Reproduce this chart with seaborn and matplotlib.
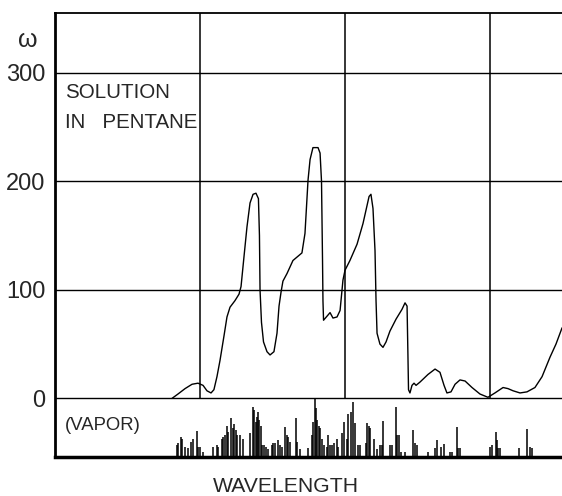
import numpy as np
import pandas as pd
import matplotlib
matplotlib.use("Agg")
import matplotlib.pyplot as plt
from matplotlib import font_manager
import seaborn as sns

# ---- data (wavelength in arbitrary grid units, omega values) ----
sol_wl = [0.807, 0.848, 0.897, 0.945, 0.986, 1.021, 1.048, 1.076, 1.096, 1.117,
          1.138, 1.166, 1.186, 1.207, 1.241, 1.269, 1.283, 1.303, 1.324, 1.345,
          1.366, 1.386, 1.403, 1.410, 1.414, 1.424, 1.438, 1.462, 1.483, 1.510,
          1.531, 1.545, 1.559, 1.572, 1.600, 1.641, 1.703, 1.724, 1.745, 1.759,
          1.779, 1.793, 1.814, 1.828, 1.838, 1.845, 1.848, 1.852, 1.897, 1.917,
          1.945, 1.966, 1.986, 2.000, 2.034, 2.083, 2.124, 2.166, 2.179, 2.193,
          2.207, 2.214, 2.221, 2.241, 2.262, 2.283, 2.310, 2.352, 2.393, 2.414,
          2.428, 2.434, 2.438, 2.448, 2.462, 2.476, 2.490, 2.517, 2.572, 2.621,
          2.655, 2.683, 2.703, 2.731, 2.759, 2.793, 2.828, 2.876, 2.931, 2.986,
          3.034, 3.090, 3.124, 3.159, 3.207, 3.255, 3.310, 3.359, 3.414, 3.455,
          3.497]
sol_omega = [0, 4, 9, 13, 14, 12, 7, 5, 8, 20,
             35, 58, 75, 84, 90, 96, 103, 130, 158, 180,
             188, 189, 184, 150, 100, 70, 52, 43, 40, 43,
             60, 85, 98, 108, 115, 127, 134, 152, 201, 220,
             231, 231, 231, 226, 200, 127, 90, 72, 79, 74,
             75, 81, 109, 118, 127, 142, 161, 186, 188, 175,
             136, 90, 60, 50, 47, 52, 62, 73, 82, 88,
             85, 40, 8, 5, 12, 14, 12, 15, 22, 27,
             24, 12, 5, 6, 13, 17, 16, 10, 4, 1,
             5, 10, 9, 7, 5, 6, 10, 20, 38, 50,
             65]

vapor_wl = [0.841, 0.848, 0.869, 0.876, 0.897, 0.917, 0.938, 0.952, 0.979, 0.986,
            1.000, 1.021, 1.090, 1.117, 1.124, 1.152, 1.159, 1.172, 1.186, 1.193,
            1.214, 1.228, 1.234, 1.248, 1.255, 1.276, 1.297, 1.345, 1.366, 1.372,
            1.386, 1.393, 1.400, 1.407, 1.421, 1.428, 1.441, 1.455, 1.469, 1.497,
            1.503, 1.517, 1.538, 1.552, 1.566, 1.586, 1.600, 1.607, 1.621, 1.662,
            1.669, 1.690, 1.745, 1.772, 1.779, 1.793, 1.800, 1.807, 1.821, 1.828,
            1.841, 1.855, 1.876, 1.883, 1.897, 1.910, 1.924, 1.945, 1.952, 1.979,
            1.993, 2.014, 2.021, 2.041, 2.055, 2.069, 2.090, 2.103, 2.145, 2.152,
            2.166, 2.172, 2.200, 2.221, 2.241, 2.255, 2.262, 2.310, 2.324, 2.352,
            2.359, 2.372, 2.386, 2.414, 2.469, 2.483, 2.497, 2.572, 2.621, 2.634,
            2.662, 2.683, 2.724, 2.738, 2.772, 2.779, 2.793, 3.000, 3.014, 3.041,
            3.048, 3.055, 3.069, 3.200, 3.255, 3.276, 3.290]
vapor_top = [-43, -41, -36, -37, -45, -46, -40, -37, -30, -45,
             -45, -49, -45, -43, -45, -37, -36, -34, -25, -31,
             -18, -27, -24, -29, -34, -34, -37, -32, -8, -11,
             -22, -17, -13, -20, -25, -43, -43, -45, -47, -43,
             -41, -41, -38, -43, -45, -26, -34, -36, -40, -18,
             -40, -47, -46, -34, -22, 0, -9, -20, -25, -27,
             -37, -43, -45, -34, -43, -43, -41, -37, -45, -32,
             -22, -37, -14, -13, -3, -23, -43, -43, -41, -23,
             -25, -27, -37, -47, -43, -43, -21, -43, -43, -8,
             -34, -34, -49, -49, -29, -41, -43, -49, -46, -38,
             -45, -42, -49, -49, -26, -46, -46, -45, -43, -31,
             -38, -46, -46, -46, -28, -45, -46]

y_ticks = [0, 100, 200, 300]
y_tick_labels = ["0", "100", "200", "300"]
x_grid = [1, 2, 3]

# ---- figure ----
sns.set_style("white")
plt.rcParams['font.family'] = ['Liberation Sans', 'DejaVu Sans']

installed = {f.name for f in font_manager.fontManager.ttflist}
if 'Liberation Sans Narrow' in installed:
    label_family = ['Liberation Sans Narrow', 'DejaVu Sans']
    fs_sol, fs_vap, fs_wl = 16, 15, 17
else:
    label_family = ['Liberation Sans', 'DejaVu Sans']
    fs_sol, fs_vap, fs_wl = 14.8, 13.3, 15.2

W, H = 562, 496
fig = plt.figure(figsize=(W / 100, H / 100), dpi=100)
ax = fig.add_axes([55 / W, 1 - 457 / H, 507.5 / W, (457 - 13) / H])

y_bottom, y_top = -54, 355
ax.set_xlim(0, 3.5)
ax.set_ylim(y_bottom, y_top)

# grid
for yv in y_ticks:
    ax.axhline(yv, color="black", lw=1.0, zorder=1)
ax.vlines(x_grid, 0, y_top, color="black", lw=1.1, zorder=1)

# solution curve
df = pd.DataFrame({"wl": sol_wl, "omega": sol_omega})
sns.lineplot(data=df, x="wl", y="omega", sort=False, estimator=None,
             color="black", lw=1.0, ax=ax, zorder=3)

# vapor spectrum lines
ax.vlines(vapor_wl, y_bottom, vapor_top, color="black", lw=1.1, zorder=3)

# axes styling
ax.spines["right"].set_visible(False)
ax.spines["left"].set_linewidth(2.0)
ax.spines["bottom"].set_linewidth(2.5)
ax.spines["top"].set_linewidth(1.3)
for s in ax.spines.values():
    s.set_color("black")

ax.set_yticks(y_ticks)
ax.set_yticklabels(y_tick_labels, fontsize=17)
ax.tick_params(axis="y", length=0, pad=7)
ax.set_xticks(x_grid)
ax.set_xticklabels([])
ax.tick_params(axis="x", direction="out", length=8, width=1.2, color="black")
ax.set_xlabel("")
ax.set_ylabel("")

ax.text(0.069, 277, "SOLUTION", fontsize=fs_sol, family=label_family,
        va="baseline", ha="left")
ax.text(0.069, 249, "IN   PENTANE", fontsize=fs_sol, family=label_family,
        va="baseline", ha="left")
ax.text(0.069, -29, "(VAPOR)", fontsize=fs_vap, family=label_family,
        va="baseline", ha="left")

fig.text(286 / W, 1 - 492 / H, "WAVELENGTH", fontsize=fs_wl, family=label_family,
         ha="center", va="baseline")
fig.text(28 / W, 1 - 40 / H, "ω", fontsize=18, ha="center", va="center")

fig.savefig("out.png", dpi=100)
